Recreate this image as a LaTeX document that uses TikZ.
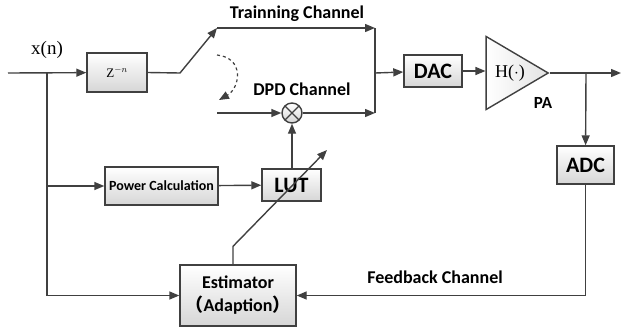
\documentclass[tikz,border=0pt]{standalone}
\usepackage{fontspec}
\setmainfont{Liberation Serif}
\setsansfont{Carlito}
\newfontfamily\cjk{Noto Sans CJK SC}
\usepackage{tikz}
\usetikzlibrary{shapes.geometric, arrows.meta, positioning, shadows}
\definecolor{wire}{HTML}{404040}
\definecolor{boxbot}{HTML}{D6D6D6}

\begin{document}
\begin{tikzpicture}[
  x=1pt, y=-1pt,
  box/.style={rectangle, draw=wire, line width=1.4pt, top color=white, bottom color=boxbot,
              inner sep=0pt, align=center, font=\sffamily\bfseries,
              drop shadow={shadow xshift=1.2pt, shadow yshift=-1.2pt, opacity=0.25}},
  bigbox/.style={box, font=\fontsize{22}{24}\selectfont\sffamily\bfseries},
  label/.style={font=\fontsize{18}{20}\selectfont\sffamily\bfseries, inner sep=0pt},
  arrow/.style={-{Triangle[length=10pt, width=8pt]}, line width=1.4pt, draw=wire},
  wireline/.style={line width=1.4pt, draw=wire}
]
\useasboundingbox (0,0) rectangle (621,330);

% blocks
\node[box, minimum width=60, minimum height=39, font=\fontsize{13}{15}\selectfont\rmfamily] (delay) at (117,72.5) {Z$^{-n}$};
\node[bigbox, minimum width=58, minimum height=32] (dac) at (433,71) {DAC};
\node[isosceles triangle, isosceles triangle stretches, shape border rotate=0,
      minimum width=73, minimum height=62, inner sep=0pt, anchor=apex,
      draw=wire, line width=1.4pt, left color=white, right color=boxbot!70,
      font=\fontsize{18}{20}\selectfont\rmfamily] (pa) at (550,73) {\hspace{4pt}H($\cdot$)};
\node[bigbox, minimum width=57, minimum height=38] (adc) at (585.5,165) {ADC};
\node[box, minimum width=113, minimum height=38, font=\fontsize{14}{16}\selectfont\sffamily\bfseries] (pcalc) at (161.5,186) {Power Calculation};
\node[bigbox, minimum width=59, minimum height=32] (lut) at (291.5,185) {LUT};
\node[box, minimum width=116, minimum height=61, font=\fontsize{18}{23}\selectfont\sffamily\bfseries] (est) at (238,295.5) {Estimator\\{\cjk （}Adaption{\cjk ）}};
\node[circle, draw=wire, line width=1.4pt, minimum size=20, inner sep=0pt,
      top color=white, bottom color=boxbot,
      path picture={\draw[wireline] (path picture bounding box.north west) -- (path picture bounding box.south east)
                    (path picture bounding box.north east) -- (path picture bounding box.south west);}] (mult) at (292,113) {};

% labels
\node[font=\fontsize{19}{21}\selectfont\rmfamily] (xn) at (47,50) {x(n)};
\node[label] (tlabel) at (297,14) {Trainning Channel};
\node[label] (dlabel) at (302,89) {DPD Channel};
\node[label] (flabel) at (435,277) {Feedback Channel};
\node[label, font=\fontsize{17}{19}\selectfont\sffamily\bfseries] (palabel) at (543,103) {PA};

% junctions
\coordinate (in) at (8,73);
\coordinate (tap) at (47,73);
\coordinate (tap-p) at (47,186);
\coordinate (tap-e) at (47,295.5);
\coordinate (sw) at (180,73);
\coordinate (tr) at (217,28);
\coordinate (dp) at (217,113);
\coordinate (join-t) at (375,28);
\coordinate (join-d) at (375,113);
\coordinate (join) at (375,73);
\coordinate (fb) at (586,73);
\coordinate (out) at (621,73);
\coordinate (adapt) at (327,150);
\coordinate (pos-a) at (217,55);
\coordinate (pos-b) at (219,100);

% connections
\draw[arrow] (in) -- (delay);
\draw[wireline] (tap) -- (tap-e);
\draw[arrow] (tap-p) -- (pcalc);
\draw[arrow] (tap-e) -- (est);
\draw[arrow] (delay.east) -- (sw) -- (tr);
\draw[arrow] (tr) -- (join-t);
\draw[arrow] (dp) -- (mult);
\draw[arrow] (mult) -- (join-d);
\draw[wireline] (join-t) -- (join-d);
\draw[arrow] (join) -- (dac);
\draw[arrow] (dac) -- (pa.west |- dac);
\draw[arrow] (pa.apex) -- (out);
\draw[arrow] (fb) -- (adc);
\draw[arrow] (adc.south) |- (est.east);
\draw[arrow] (pcalc) -- (lut);
\draw[arrow] (lut.north -| mult) -- (mult);
\draw[arrow] ([xshift=-5pt]est.north) -- ++(0,-18) -- (adapt);
\draw[arrow, dashed, line width=1.2pt] (pos-a) .. controls (245,58) and (240,88) .. (pos-b);

\end{tikzpicture}
\end{document}
